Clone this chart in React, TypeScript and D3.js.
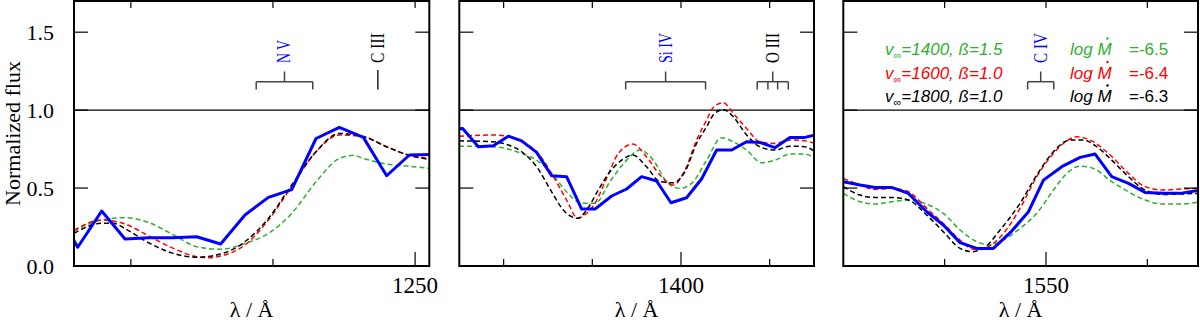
import React from 'react';
import * as d3 from 'd3';

// ---------- data ----------
const yTicks = [0, 0.5, 1.0, 1.5];

// Panel 1 (N V region)
const p1Blue = { wl: [1225.9, 1226.26, 1227.95, 1229.59, 1231.26, 1232.93, 1234.63, 1236.32, 1238.03, 1239.68, 1241.32, 1243.03, 1244.67, 1246.36, 1248.0, 1249.6, 1251.3],
  f: [0.18, 0.12, 0.353, 0.173, 0.182, 0.182, 0.188, 0.141, 0.327, 0.44, 0.49, 0.818, 0.889, 0.825, 0.579, 0.712, 0.716] };
const p1Green = { wl: [1226.0, 1227.95, 1229.59, 1231.11, 1232.99, 1234.63, 1236.32, 1238.03, 1239.68, 1241.32, 1243.03, 1244.67, 1245.66, 1246.36, 1248.0, 1249.6, 1251.0],
  f: [0.224, 0.295, 0.31, 0.284, 0.2, 0.124, 0.107, 0.145, 0.209, 0.338, 0.54, 0.69, 0.71, 0.69, 0.654, 0.64, 0.626] };
const p1Red = { wl: [1226.0, 1227.95, 1229.59, 1231.11, 1232.99, 1234.63, 1235.57, 1236.32, 1238.03, 1239.68, 1241.32, 1243.03, 1244.67, 1246.36, 1248.0, 1249.6, 1251.0],
  f: [0.23, 0.295, 0.27, 0.2, 0.113, 0.06, 0.053, 0.064, 0.135, 0.295, 0.51, 0.733, 0.84, 0.83, 0.765, 0.71, 0.69] };
const p1Black = { wl: [1226.0, 1227.95, 1228.77, 1229.59, 1231.11, 1232.99, 1234.63, 1236.32, 1238.03, 1239.68, 1241.32, 1243.03, 1244.67, 1246.36, 1248.0, 1249.6, 1251.0],
  f: [0.21, 0.274, 0.274, 0.24, 0.156, 0.081, 0.056, 0.077, 0.156, 0.305, 0.52, 0.733, 0.85, 0.83, 0.765, 0.71, 0.684] };

// Panel 2 (Si IV region)
const p2Blue = { wl: [1375.0, 1375.38, 1377.15, 1378.84, 1380.53, 1382.03, 1383.72, 1385.41, 1387.1, 1388.8, 1390.3, 1392.18, 1393.87, 1395.56, 1397.25, 1398.87, 1400.63, 1402.32, 1404.02, 1405.71, 1407.4, 1408.9, 1410.59, 1412.28, 1413.97, 1415.1],
  f: [0.88, 0.882, 0.765, 0.771, 0.833, 0.803, 0.729, 0.579, 0.573, 0.365, 0.365, 0.449, 0.494, 0.573, 0.545, 0.406, 0.438, 0.558, 0.744, 0.744, 0.797, 0.793, 0.759, 0.825, 0.825, 0.84] };
const p2Red = { wl: [1374.97, 1378.84, 1380.53, 1382.03, 1383.72, 1385.41, 1387.1, 1388.35, 1389.36, 1390.3, 1391.61, 1392.93, 1394.55, 1396.12, 1397.63, 1399.13, 1400.45, 1401.76, 1402.89, 1403.64, 1404.77, 1405.9, 1407.4, 1408.9, 1410.59, 1412.28, 1413.97, 1415.1],
  f: [0.833, 0.84, 0.83, 0.797, 0.733, 0.594, 0.423, 0.306, 0.338, 0.402, 0.562, 0.722, 0.782, 0.7, 0.583, 0.519, 0.615, 0.808, 0.936, 1.017, 1.047, 0.979, 0.882, 0.797, 0.786, 0.808, 0.803, 0.786] };
const p2Black = { wl: [1374.97, 1378.84, 1380.53, 1382.03, 1383.72, 1385.41, 1386.73, 1388.35, 1389.36, 1390.67, 1391.99, 1393.31, 1394.55, 1396.12, 1397.63, 1399.13, 1400.45, 1401.76, 1402.89, 1403.64, 1404.77, 1405.9, 1407.4, 1408.9, 1410.59, 1412.28, 1413.97, 1415.1],
  f: [0.803, 0.797, 0.776, 0.733, 0.637, 0.476, 0.359, 0.306, 0.359, 0.487, 0.605, 0.679, 0.712, 0.637, 0.541, 0.534, 0.605, 0.786, 0.893, 0.968, 1.004, 0.957, 0.84, 0.765, 0.744, 0.769, 0.765, 0.733] };
const p2Green = { wl: [1374.97, 1378.84, 1382.03, 1383.72, 1385.41, 1387.1, 1388.8, 1390.3, 1391.99, 1393.87, 1395.37, 1396.87, 1398.38, 1399.88, 1401.38, 1402.89, 1404.58, 1405.9, 1407.4, 1409.08, 1410.59, 1412.28, 1413.97, 1415.1],
  f: [0.769, 0.765, 0.722, 0.679, 0.594, 0.476, 0.402, 0.402, 0.541, 0.679, 0.744, 0.679, 0.541, 0.498, 0.541, 0.679, 0.823, 0.797, 0.744, 0.662, 0.679, 0.718, 0.718, 0.69] };

// Panel 3 (C IV region)
const p3Blue = { wl: [1530.0, 1531.65, 1533.13, 1534.77, 1536.42, 1538.23, 1539.87, 1541.52, 1543.17, 1544.81, 1546.62, 1548.27, 1549.75, 1551.56, 1553.37, 1554.85, 1556.49, 1558.14, 1559.78, 1561.59, 1563.24, 1565.21],
  f: [0.541, 0.52, 0.504, 0.504, 0.466, 0.348, 0.263, 0.15, 0.113, 0.113, 0.224, 0.348, 0.551, 0.637, 0.697, 0.718, 0.573, 0.53, 0.472, 0.466, 0.466, 0.487] };
const p3Red = { wl: [1530.0, 1531.65, 1533.13, 1534.77, 1536.42, 1538.23, 1539.87, 1541.52, 1542.84, 1544.15, 1545.8, 1547.44, 1549.09, 1550.73, 1551.72, 1553.04, 1554.35, 1556.33, 1558.14, 1559.78, 1561.59, 1563.24, 1565.21],
  f: [0.562, 0.519, 0.491, 0.498, 0.476, 0.37, 0.273, 0.167, 0.107, 0.12, 0.209, 0.37, 0.573, 0.722, 0.786, 0.829, 0.808, 0.712, 0.594, 0.509, 0.487, 0.494, 0.498] };
const p3Black = { wl: [1530.0, 1531.65, 1533.13, 1534.77, 1536.42, 1538.23, 1539.87, 1541.52, 1542.67, 1543.82, 1545.47, 1547.44, 1549.09, 1550.73, 1552.38, 1553.7, 1555.01, 1556.49, 1558.14, 1559.78, 1561.59, 1563.24, 1565.21],
  f: [0.509, 0.455, 0.44, 0.44, 0.423, 0.327, 0.22, 0.113, 0.092, 0.113, 0.231, 0.402, 0.583, 0.733, 0.808, 0.808, 0.765, 0.679, 0.573, 0.487, 0.459, 0.462, 0.466] };
const p3Green = { wl: [1530.0, 1531.65, 1533.13, 1534.77, 1536.42, 1538.23, 1539.87, 1541.52, 1543.17, 1544.48, 1545.8, 1547.44, 1549.09, 1550.73, 1552.05, 1553.37, 1554.68, 1556.49, 1558.14, 1559.78, 1561.59, 1563.24, 1565.21],
  f: [0.466, 0.412, 0.397, 0.412, 0.423, 0.397, 0.338, 0.231, 0.156, 0.135, 0.167, 0.241, 0.338, 0.487, 0.594, 0.641, 0.626, 0.541, 0.476, 0.423, 0.397, 0.397, 0.412] };

// x ticks per panel and labelled tick
const p1Ticks = [1230, 1240, 1250];
const p2Ticks = [1380, 1390, 1400, 1410];
const p3Ticks = [1540, 1550, 1560];
const tickLabels = ['1250', '1400', '1550'];

// line identifications
const nvLines = [1238.82, 1242.80];
const ciiiLines = [1247.38];
const siivLines = [1393.76, 1402.77];
const oiiiLines = [1408.6, 1409.8, 1410.9, 1412.1];
const civLines = [1548.19, 1550.77];

// legend
const legendModels = ['1400', '1600', '1800'];
const legendBeta = ['1.5', '1.0', '1.0'];
const legendMdot = ['-6.5', '-6.4', '-6.3'];

// ---------- styling ----------
const GREEN = '#30b030';
const RED = '#ff0000';
const BLACK = '#000000';
const BLUE = '#0000ff';
const legendColors = [GREEN, RED, BLACK];

const TOP = 1, BOTTOM = 266;
const serifStyle = { fontFamily: 'Liberation Serif, DejaVu Serif, serif' };
const sansStyle = { fontFamily: 'Liberation Sans, DejaVu Sans, sans-serif' };

type Series = { wl: number[]; f: number[] };
type Ident = { name: string; lines: number[]; color: string; len: number; bracket: boolean };

const panels = [
  { domain: [1226, 1251], range: [74, 429.3], ticks: p1Ticks, label: tickLabels[0], labelAt: 1250,
    series: [p1Green, p1Red, p1Black, p1Blue],
    idents: [
      { name: 'N V', lines: nvLines, color: BLUE, len: 23, bracket: true },
      { name: 'C III', lines: ciiiLines, color: BLACK, len: 30, bracket: false },
    ] as Ident[] },
  { domain: [1375, 1415], range: [459.3, 814], ticks: p2Ticks, label: tickLabels[1], labelAt: 1400,
    series: [p2Green, p2Red, p2Black, p2Blue],
    idents: [
      { name: 'Si IV', lines: siivLines, color: BLUE, len: 30, bracket: true },
      { name: 'O III', lines: oiiiLines, color: BLACK, len: 30, bracket: true },
    ] as Ident[] },
  { domain: [1530, 1565], range: [843.3, 1198], ticks: p3Ticks, label: tickLabels[2], labelAt: 1550,
    series: [p3Green, p3Red, p3Black, p3Blue],
    idents: [
      { name: 'C IV', lines: civLines, color: BLUE, len: 30, bracket: true },
    ] as Ident[] },
];

const seriesStyle = [
  { color: GREEN, dash: '5,3', width: 1.5, smooth: true },
  { color: RED, dash: '5,3', width: 1.5, smooth: true },
  { color: BLACK, dash: '5,3', width: 1.5, smooth: true },
  { color: BLUE, dash: undefined, width: 3, smooth: false },
];

const y = d3.scaleLinear().domain([0, 1.7]).range([BOTTOM, TOP]);

function Panel({ p, idx }: { p: typeof panels[0]; idx: number }) {
  const x = d3.scaleLinear().domain(p.domain).range(p.range);
  const [x0, x1] = p.range;
  const clipId = `clip${idx}`;
  return (
    <g>
      <defs>
        <clipPath id={clipId}>
          <rect x={x0} y={TOP} width={x1 - x0} height={BOTTOM - TOP} />
        </clipPath>
      </defs>
      <line x1={x0} x2={x1} y1={y(1)} y2={y(1)} stroke="#000" strokeWidth={1.2} />
      <g clipPath={`url(#${clipId})`}>
        {p.series.map((s: Series, i: number) => {
          const st = seriesStyle[i];
          const gen = d3.line<number>()
            .x((_, k) => x(s.wl[k]))
            .y((_, k) => y(s.f[k]))
            .curve(st.smooth ? d3.curveMonotoneX : d3.curveLinear);
          return (
            <path key={i} d={gen(s.f) || ''} fill="none" stroke={st.color}
              strokeWidth={st.width} strokeDasharray={st.dash} strokeLinejoin="round" />
          );
        })}
      </g>
      {yTicks.map((t) => (
        <g key={t}>
          <line x1={x0} x2={x0 + 14} y1={y(t)} y2={y(t)} stroke="#000" strokeWidth={1.2} />
          <line x1={x1 - 14} x2={x1} y1={y(t)} y2={y(t)} stroke="#000" strokeWidth={1.2} />
        </g>
      ))}
      {p.ticks.map((t: number) => (
        <g key={t}>
          <line x1={x(t)} x2={x(t)} y1={BOTTOM} y2={BOTTOM - (t === p.labelAt ? 14 : 7)} stroke="#000" strokeWidth={1.2} />
          <line x1={x(t)} x2={x(t)} y1={TOP} y2={TOP + 7} stroke="#000" strokeWidth={1.2} />
        </g>
      ))}
      <text x={x(p.labelAt)} y={293} textAnchor="middle" style={serifStyle} fontSize={23}>{p.label}</text>
      <text x={(x0 + x1) / 2} y={317} textAnchor="middle" style={serifStyle} fontSize={22}>λ / Å</text>
      {p.idents.map((id: Ident, k: number) => {
        const xs = id.lines.map((l) => x(l));
        const xc = (d3.min(xs)! + d3.max(xs)!) / 2;
        return (
          <g key={k}>
            {id.bracket ? (
              <g stroke="#444" strokeWidth={1.5} fill="none">
                <line x1={xc} x2={xc} y1={71.5} y2={81.7} />
                <line x1={d3.min(xs)!} x2={d3.max(xs)!} y1={81.7} y2={81.7} />
                {xs.map((xx, j) => <line key={j} x1={xx} x2={xx} y1={81.7} y2={89.5} />)}
              </g>
            ) : (
              <line x1={xc} x2={xc} y1={70} y2={89.5} stroke="#222" strokeWidth={1.5} />
            )}
            <text transform={`translate(${xc + 6},63) rotate(-90)`} style={serifStyle} fontSize={18}
              fill={id.color} textLength={id.len} lengthAdjust="spacingAndGlyphs">{id.name}</text>
          </g>
        );
      })}
      <rect x={x0} y={TOP} width={x1 - x0} height={BOTTOM - TOP} fill="none" stroke="#000" strokeWidth={2} />
    </g>
  );
}

export default function App() {
  const legendY = [55, 78.5, 102];
  return (
    <svg width={1200} height={323} style={{ position: 'absolute', left: 0, top: 0, background: '#fff' }}>
      <rect x={0} y={0} width={1200} height={323} fill="#fff" />
      {panels.map((p, i) => <Panel key={i} p={p} idx={i} />)}
      {yTicks.map((t) => (
        <text key={t} x={54} y={y(t) + 8} textAnchor="end" style={serifStyle} fontSize={22}>{t.toFixed(1)}</text>
      ))}
      <text transform={`translate(20,${(TOP + BOTTOM) / 2}) rotate(-90)`} textAnchor="middle" style={serifStyle} fontSize={22}>Normalized flux</text>
      {legendModels.map((m, i) => (
        <g key={m} fill={legendColors[i]}>
          <text x={885} y={legendY[i]} style={sansStyle} fontStyle="italic" fontSize={17}>
            v<tspan fontSize={11} dy={4}>∞</tspan><tspan dy={-4}>={m}, ß={legendBeta[i]}</tspan>
          </text>
          <text x={1070} y={legendY[i]} style={sansStyle} fontStyle="italic" fontSize={17}>log M</text>
          <circle cx={1107.5} cy={legendY[i] - 16.5} r={1.2} />
          <text x={1129} y={legendY[i]} style={sansStyle} fontSize={17}>={legendMdot[i]}</text>
        </g>
      ))}
    </svg>
  );
}
